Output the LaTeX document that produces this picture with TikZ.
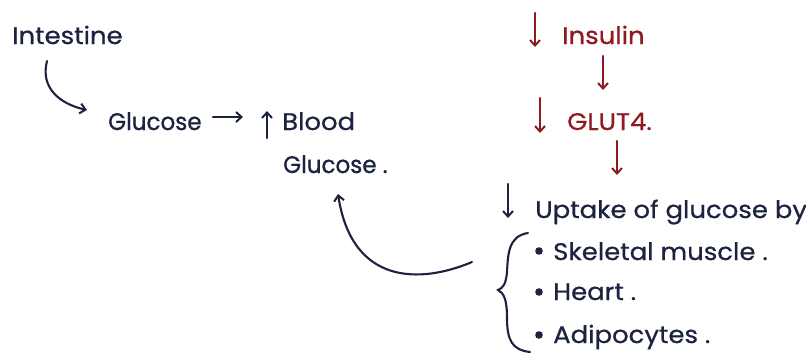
\documentclass[tikz,border=0pt]{standalone}
\usepackage{fontspec}
\setmainfont{Poppins}[FakeBold=0.6]
\usetikzlibrary{arrows.meta}
\definecolor{ink}{HTML}{1C2340}
\definecolor{redink}{HTML}{8E1B22}
\begin{document}
\begin{tikzpicture}[x=1pt,y=-1pt,
 lbl/.style={inner sep=0pt, anchor=base west, font=\fontsize{24}{28}\selectfont\addfontfeature{FakeStretch=1.08}, text=ink},
 glbl/.style={lbl, font=\fontsize{24}{28}\selectfont\addfontfeature{FakeStretch=0.96,FakeBold=0.9}},
 rlbl/.style={lbl, text=redink},
 arr/.style={-{Straight Barb[length=5.5pt,width=10pt,line width=2pt]}, line width=2.1pt, draw=ink, line cap=round},
 rarr/.style={arr, draw=redink},
]
\useasboundingbox (0,0) rectangle (806,354);
\fill[white] (0,0) rectangle (806,354);

% texts
\node[lbl] (int) at (12,44) {Intestine};
\node[glbl] (glu) at (108,130) {Glucose};
\node[lbl] (blood) at (282,130) {Blood};
\node[glbl] (bglu) at (283,173) {Glucose .};
\node[rlbl] (ins) at (562,44) {Insulin};
\node[rlbl] (glut) at (567,130) {GLUT4.};
\node[lbl] (upt) at (535,218) {Uptake of glucose by};
\node[lbl] (skm) at (553,260) {Skeletal muscle .};
\node[lbl] (hrt) at (553,300) {Heart .};
\node[lbl] (adi) at (553,343) {Adipocytes .};

% bullets
\fill[ink] (539,251) circle (3.8);
\fill[ink] (539,292) circle (3.8);
\fill[ink] (539,335) circle (3.8);

% arrow coordinates
\coordinate (a1s) at (47,61);
\coordinate (a1e) at (87,110);
\coordinate (a2s) at (213,117);
\coordinate (a2e) at (243,117);
\coordinate (u1s) at (267,138);
\coordinate (u1e) at (267,111);
\coordinate (r1s) at (535,13);
\coordinate (r1e) at (535,47);
\coordinate (r2s) at (603,56);
\coordinate (r2e) at (603,90);
\coordinate (r3s) at (540,98);
\coordinate (r3e) at (540,133);
\coordinate (r4s) at (617,141);
\coordinate (r4e) at (617,175);
\coordinate (d1s) at (508,184);
\coordinate (d1e) at (508,218);
\coordinate (bcs) at (472,262);
\coordinate (bce) at (338,194);

\draw[arr] (a1s) .. controls (40,88) and (60,104) .. (a1e);
\draw[arr] (a2s) -- (a2e);
\draw[arr] (u1s) -- (u1e);
\draw[rarr] (r1s) -- (r1e);
\draw[rarr] (r2s) -- (r2e);
\draw[rarr] (r3s) -- (r3e);
\draw[rarr] (r4s) -- (r4e);
\draw[arr] (d1s) -- (d1e);
\draw[arr] (bcs) .. controls (420,284) and (352,285) .. (bce);

% brace
\draw[ink, line width=2.1pt, line cap=round]
  (528,233) .. controls (508,236) and (508,255) .. (507,272)
  .. controls (506,284) and (503,288) .. (498,290)
  .. controls (504,293) and (507,300) .. (507,318)
  .. controls (507,340) and (512,350) .. (530,352);
\end{tikzpicture}
\end{document}
